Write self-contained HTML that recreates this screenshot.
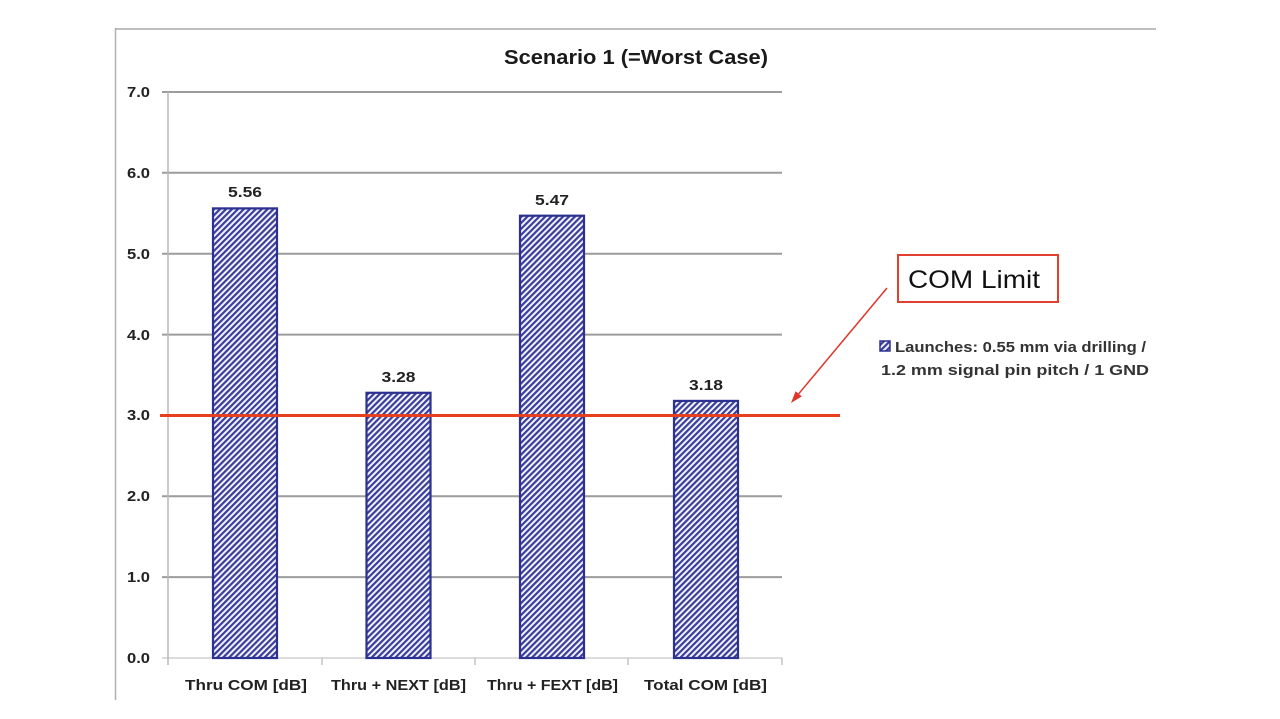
<!DOCTYPE html>
<html>
<head>
<meta charset="utf-8">
<style>
  html,body{margin:0;padding:0;background:#fff;}
  svg{display:block;}
  text{font-family:"Liberation Sans", Arial, sans-serif;}
</style>
</head>
<body>
<svg width="1280" height="719" viewBox="0 0 1280 719" xmlns="http://www.w3.org/2000/svg">
  <defs>
    <pattern id="h" patternUnits="userSpaceOnUse" width="4.2" height="4.2" patternTransform="rotate(45)">
      <rect x="0" y="0" width="4.2" height="4.2" fill="#f4f4fa"/>
      <rect x="0" y="0" width="2.2" height="4.2" fill="#3a3e9c"/>
    </pattern>
  </defs>
  <rect x="0" y="0" width="1280" height="719" fill="#ffffff"/>

  <!-- frame -->
  <line x1="115.5" y1="28" x2="115.5" y2="700" stroke="#b0b0b0" stroke-width="1.5"/>
  <line x1="115" y1="29" x2="1156" y2="29" stroke="#a8a8a8" stroke-width="1.5"/>

  <!-- title -->
  <text x="636" y="64" text-anchor="middle" font-size="20" font-weight="bold" fill="#1a1a1a" textLength="264" lengthAdjust="spacingAndGlyphs">Scenario 1 (=Worst Case)</text>

  <!-- gridlines -->
  <g stroke="#9c9c9c" stroke-width="2">
    <line x1="162" y1="92" x2="782" y2="92"/>
    <line x1="162" y1="172.8" x2="782" y2="172.8"/>
    <line x1="162" y1="253.7" x2="782" y2="253.7"/>
    <line x1="162" y1="334.6" x2="782" y2="334.6"/>
    <line x1="162" y1="415.4" x2="782" y2="415.4"/>
    <line x1="162" y1="496.3" x2="782" y2="496.3"/>
    <line x1="162" y1="577.1" x2="782" y2="577.1"/>
  </g>
  <line x1="162" y1="658" x2="782" y2="658" stroke="#d0d0d0" stroke-width="1.5"/>
  <line x1="168" y1="92" x2="168" y2="665" stroke="#b8b8b8" stroke-width="1.5"/>
  <g stroke="#c4c4c4" stroke-width="1.5">
    <line x1="322" y1="658" x2="322" y2="665"/>
    <line x1="475" y1="658" x2="475" y2="665"/>
    <line x1="628" y1="658" x2="628" y2="665"/>
    <line x1="782" y1="658" x2="782" y2="665"/>
  </g>

  <!-- y labels -->
  <g font-size="15" font-weight="bold" fill="#222" text-anchor="end">
    <text x="150" y="97" textLength="23" lengthAdjust="spacingAndGlyphs">7.0</text>
    <text x="150" y="178" textLength="23" lengthAdjust="spacingAndGlyphs">6.0</text>
    <text x="150" y="259" textLength="23" lengthAdjust="spacingAndGlyphs">5.0</text>
    <text x="150" y="340" textLength="23" lengthAdjust="spacingAndGlyphs">4.0</text>
    <text x="150" y="420" textLength="23" lengthAdjust="spacingAndGlyphs">3.0</text>
    <text x="150" y="501" textLength="23" lengthAdjust="spacingAndGlyphs">2.0</text>
    <text x="150" y="582" textLength="23" lengthAdjust="spacingAndGlyphs">1.0</text>
    <text x="150" y="663" textLength="23" lengthAdjust="spacingAndGlyphs">0.0</text>
  </g>

  <!-- bars -->
  <g fill="url(#h)" stroke="#2c3090" stroke-width="2.2">
    <rect x="213" y="208.4" width="64" height="449.6"/>
    <rect x="366.5" y="392.8" width="64" height="265.2"/>
    <rect x="520" y="215.7" width="64" height="442.3"/>
    <rect x="674" y="400.9" width="64" height="257.1"/>
  </g>

  <!-- data labels -->
  <g font-size="15" font-weight="bold" fill="#222" text-anchor="middle">
    <text x="245" y="197" textLength="34" lengthAdjust="spacingAndGlyphs">5.56</text>
    <text x="398.5" y="382" textLength="34" lengthAdjust="spacingAndGlyphs">3.28</text>
    <text x="552" y="205" textLength="34" lengthAdjust="spacingAndGlyphs">5.47</text>
    <text x="706" y="390" textLength="34" lengthAdjust="spacingAndGlyphs">3.18</text>
  </g>

  <!-- x labels -->
  <g font-size="15" font-weight="bold" fill="#222" text-anchor="middle">
    <text x="246" y="690" textLength="122" lengthAdjust="spacingAndGlyphs">Thru COM [dB]</text>
    <text x="398.5" y="690" textLength="135" lengthAdjust="spacingAndGlyphs">Thru + NEXT [dB]</text>
    <text x="552.5" y="690" textLength="131" lengthAdjust="spacingAndGlyphs">Thru + FEXT [dB]</text>
    <text x="705.5" y="690" textLength="123" lengthAdjust="spacingAndGlyphs">Total COM [dB]</text>
  </g>

  <!-- COM limit line -->
  <line x1="160" y1="415.5" x2="840" y2="415.5" stroke="#e8401f" stroke-width="3"/>

  <!-- arrow -->
  <line x1="887" y1="288" x2="798.7" y2="393.8" stroke="#e0352a" stroke-width="1.5"/>
  <polygon points="791,403 801.8,396.4 795.6,391.2" fill="#e0352a"/>

  <!-- COM Limit box -->
  <rect x="898" y="255" width="160" height="47" fill="#fff" stroke="#e0402e" stroke-width="2"/>
  <text x="908" y="288" font-size="25" fill="#111" textLength="132" lengthAdjust="spacingAndGlyphs">COM Limit</text>

  <!-- legend -->
  <rect x="880" y="341" width="10" height="10" fill="url(#h)" stroke="#2c3090" stroke-width="1.5"/>
  <g font-size="14.5" font-weight="bold" fill="#333">
    <text x="895" y="352" textLength="251" lengthAdjust="spacingAndGlyphs">Launches: 0.55 mm via drilling /</text>
    <text x="881" y="375" textLength="268" lengthAdjust="spacingAndGlyphs">1.2 mm signal pin pitch / 1 GND</text>
  </g>
</svg>
</body>
</html>
